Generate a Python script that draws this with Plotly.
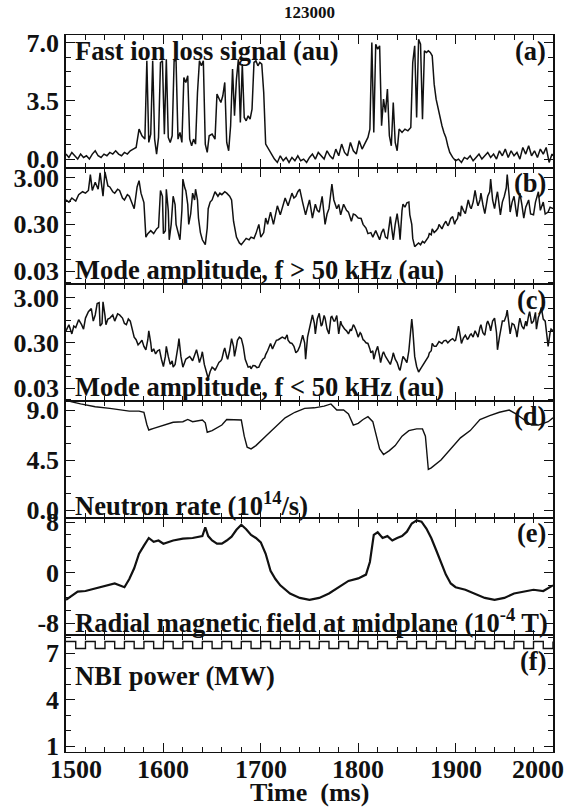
import plotly.graph_objects as go
import math

# ---------------- data ----------------
shot_label = "123000"
x_tick_vals = [1500, 1600, 1700, 1800, 1900, 2000]
x_tick_text = ["1500", "1600", "1700", "1800", "1900", "2000"]

# (a) Fast ion loss signal (au)
loss_t = [1500, 1503, 1506, 1509, 1512, 1515, 1518, 1521, 1524, 1527, 1530, 1533, 1536, 1539, 1542, 1545, 1548, 1551, 1554, 1557,
          1560, 1563, 1566, 1569, 1572, 1575, 1578, 1581, 1583, 1585, 1587, 1589, 1591, 1593, 1595, 1597, 1599, 1601, 1603, 1605,
          1607, 1609, 1611, 1613, 1615, 1617, 1619, 1621, 1623, 1625, 1627, 1629, 1631, 1633, 1635, 1637, 1639, 1641, 1643, 1645,
          1647, 1650, 1653, 1655, 1657, 1659, 1661, 1663, 1665, 1667, 1669, 1671, 1673, 1675, 1677, 1679, 1681, 1683, 1685, 1687,
          1689, 1691, 1693, 1695, 1697, 1699, 1701, 1703, 1705, 1708, 1711, 1714, 1717, 1720, 1723, 1726, 1729, 1732, 1735, 1738,
          1741, 1744, 1747, 1750, 1753, 1756, 1759, 1762, 1765, 1768, 1771, 1774, 1777, 1780, 1783, 1786, 1789, 1792, 1795, 1798,
          1801, 1804, 1807, 1810, 1812, 1814, 1816, 1818, 1820, 1822, 1824, 1826, 1828, 1830, 1832, 1834, 1836, 1838, 1840, 1842,
          1845, 1848, 1851, 1854, 1856, 1858, 1860, 1862, 1864, 1866, 1868, 1870, 1872, 1874, 1876, 1878, 1880, 1882, 1884, 1886,
          1888, 1890, 1892, 1894, 1897, 1900, 1903, 1906, 1909, 1912, 1915, 1918, 1921, 1924, 1927, 1930, 1933, 1936, 1939, 1942,
          1945, 1948, 1951, 1954, 1957, 1960, 1963, 1966, 1969, 1972, 1975, 1978, 1981, 1984, 1987, 1990, 1993, 1996, 1999, 2000]
loss_v = [0.3, 0.1, 0.4, 0.2, 0.0, 0.3, 0.1, 0.2, 0.0, 0.3, 0.5, 0.2, 0.1, 0.3, 0.2, 0.4, 0.3, 0.5, 0.3, 0.2,
          0.4, 0.3, 0.5, 0.6, 0.7, 1.8, 1.4, 1.2, 5.9, 1.0, 1.5, 5.9, 1.2, 0.3, 1.3, 5.8, 5.9, 1.5, 6.0, 1.3,
          1.0, 1.4, 5.9, 5.9, 1.2, 1.6, 1.0, 4.9, 4.6, 5.0, 1.2, 0.8, 1.2, 0.9, 4.0, 5.9, 5.6, 5.9, 0.9, 0.4,
          1.4, 1.5, 1.2, 3.9, 3.6, 3.4, 3.8, 4.6, 1.0, 0.5, 2.0, 5.4, 2.6, 4.8, 6.0, 2.2, 5.7, 2.5, 2.3, 2.6,
          2.4, 3.0, 5.8, 5.9, 5.6, 5.8, 5.7, 4.0, 0.9, 0.6, 0.3, 0.0, -0.2, 0.2, -0.1, 0.1, -0.2, 0.1, -0.1, 0.2,
          -0.1, 0.0, -0.2, 0.1, 0.3, 0.0, 0.4, 0.2, 0.0, 0.5, 0.2, 0.0, 0.6, 0.2, 0.9, 0.4, 0.2, 1.0, 0.5, 0.3,
          1.1, 0.6, 1.0, 1.3, 1.8, 7.0, 1.6, 6.9, 6.6, 6.8, 2.0, 3.6, 2.8, 4.2, 1.4, 0.8, 3.4, 1.0, 0.5, 1.8,
          1.6, 1.8, 1.7, 1.9, 5.8, 6.8, 2.5, 7.2, 6.9, 2.4, 6.5, 6.4, 6.5, 6.4, 6.2, 4.5, 3.6, 3.0, 2.6, 2.0,
          1.6, 1.3, 0.8, 0.4, 0.1, -0.1, 0.0, -0.2, 0.1, 0.0, 0.2, -0.1, 0.1, 0.3, 0.0, 0.2, 0.4, 0.1, 0.3, 0.0,
          0.5, 0.2, 0.6, 0.1, 0.5, 0.2, 0.4, 0.0, 0.7, 0.3, 0.8, 0.2, 0.5, 0.1, 0.6, 0.3, 0.7, -0.2, 0.3, 0.2]

# (b) Mode amplitude, f > 50 kHz (au)
hi_t = [1500, 1503, 1506, 1510, 1513, 1517, 1520, 1523, 1525, 1527, 1530, 1533, 1535, 1538, 1540, 1543, 1545, 1548, 1550, 1553,
        1555, 1558, 1560, 1563, 1565, 1568, 1570, 1573, 1575, 1577, 1580, 1582, 1584, 1587, 1590, 1593, 1595, 1597, 1599, 1600,
        1602, 1603, 1605, 1606, 1608, 1610, 1612, 1613, 1615, 1617, 1619, 1620, 1622, 1623, 1625, 1626, 1628, 1630, 1632, 1633,
        1635, 1636, 1638, 1640, 1643, 1645, 1646, 1648, 1650, 1653, 1656, 1658, 1660, 1663, 1665, 1668, 1670, 1672, 1675, 1678,
        1680, 1683, 1685, 1688, 1690, 1693, 1695, 1698, 1700, 1703, 1705, 1707, 1710, 1713, 1715, 1717, 1720, 1723, 1725, 1728,
        1730, 1732, 1734, 1736, 1738, 1740, 1743, 1746, 1748, 1750, 1753, 1756, 1758, 1760, 1763, 1766, 1768, 1770, 1773, 1775,
        1778, 1780, 1782, 1785, 1788, 1790, 1793, 1795, 1797, 1800, 1803, 1805, 1808, 1810, 1813, 1815, 1818, 1820, 1822, 1824,
        1826, 1828, 1830, 1832, 1833, 1835, 1836, 1838, 1840, 1842, 1843, 1845, 1846, 1848, 1850, 1852, 1853, 1855, 1856, 1858,
        1860, 1862, 1864, 1866, 1868, 1870, 1872, 1873, 1875, 1876, 1878, 1880, 1882, 1883, 1885, 1886, 1888, 1890, 1892, 1893,
        1895, 1897, 1899, 1900, 1902, 1903, 1905, 1906, 1908, 1910, 1912, 1913, 1915, 1916, 1918, 1920, 1922, 1923, 1925, 1926,
        1928, 1930, 1932, 1933, 1935, 1936, 1938, 1940, 1942, 1943, 1945, 1946, 1948, 1950, 1952, 1953, 1955, 1956, 1958, 1960,
        1962, 1963, 1965, 1966, 1968, 1970, 1972, 1975, 1977, 1980, 1982, 1985, 1987, 1990, 1992, 1995, 1997, 2000]
hi_v = [1.0, 0.9, 1.1, 0.95, 1.3, 1.5, 1.4, 1.6, 3.5, 1.6, 2.4, 1.7, 3.8, 1.2, 4.0, 2.0, 1.9, 1.5, 1.4, 1.7,
        1.6, 1.1, 1.0, 1.3, 1.2, 0.8, 0.65, 1.9, 2.6, 1.4, 0.88, 0.16, 0.19, 0.22, 0.19, 0.24, 0.26, 1.6, 1.2, 0.19,
        0.22, 1.7, 0.6, 0.14, 0.3, 1.2, 0.8, 0.3, 0.2, 0.14, 0.6, 2.8, 1.8, 1.6, 0.8, 0.3, 0.5, 1.4, 1.0, 1.7,
        1.0, 0.41, 0.2, 0.14, 0.11, 0.25, 0.65, 0.9, 1.0, 1.5, 1.2, 1.4, 1.3, 1.5, 1.4, 1.2, 1.0, 0.35, 0.16, 0.12,
        0.11, 0.13, 0.15, 0.14, 0.16, 0.15, 0.19, 0.3, 0.16, 0.2, 0.41, 0.3, 0.55, 0.3, 0.45, 0.75, 0.48, 0.8, 1.1, 0.75,
        1.0, 1.4, 1.1, 1.2, 1.5, 1.7, 0.88, 0.48, 0.7, 1.0, 0.41, 0.81, 0.6, 0.55, 1.2, 0.3, 0.5, 0.65, 2.2, 1.0,
        0.65, 0.8, 0.48, 0.81, 0.6, 0.55, 0.35, 0.5, 0.48, 0.41, 0.4, 0.3, 0.25, 0.19, 0.2, 0.16, 0.22, 0.18, 0.14, 0.2,
        0.24, 0.16, 0.15, 0.3, 0.44, 0.2, 0.14, 0.3, 0.51, 0.25, 0.14, 0.6, 0.81, 0.7, 0.87, 0.9, 0.48, 0.3, 0.15, 0.10,
        0.11, 0.12, 0.11, 0.13, 0.12, 0.14, 0.16, 0.19, 0.18, 0.24, 0.2, 0.22, 0.25, 0.3, 0.26, 0.24, 0.3, 0.35, 0.28, 0.3,
        0.4, 0.44, 0.3, 0.35, 0.4, 0.55, 0.45, 0.75, 0.6, 0.51, 0.8, 1.0, 0.7, 0.65, 0.9, 1.6, 0.9, 0.75, 1.0, 1.4,
        0.8, 0.51, 0.9, 1.2, 1.5, 2.8, 1.0, 0.65, 1.2, 1.5, 0.7, 0.48, 0.9, 1.2, 1.8, 3.5, 1.2, 0.55, 0.9, 1.2,
        0.6, 0.44, 1.0, 1.4, 0.8, 0.41, 0.7, 1.0, 0.5, 0.48, 0.9, 1.5, 0.6, 0.9, 0.5, 0.55, 0.7, 0.65]

# (c) Mode amplitude, f < 50 kHz (au)
lo_t = [1500, 1503, 1506, 1508, 1510, 1513, 1516, 1518, 1520, 1523, 1526, 1528, 1530, 1532, 1534, 1535, 1537, 1538, 1540, 1541,
        1543, 1545, 1548, 1550, 1553, 1555, 1558, 1560, 1562, 1564, 1566, 1568, 1570, 1572, 1574, 1576, 1578, 1580, 1582, 1584,
        1585, 1587, 1588, 1590, 1592, 1594, 1596, 1598, 1600, 1602, 1603, 1605, 1607, 1609, 1610, 1612, 1613, 1615, 1616, 1618,
        1620, 1622, 1623, 1625, 1627, 1629, 1630, 1632, 1634, 1636, 1637, 1639, 1640, 1642, 1644, 1646, 1648, 1650, 1652, 1653,
        1655, 1657, 1659, 1660, 1662, 1663, 1665, 1666, 1668, 1670, 1672, 1673, 1675, 1676, 1678, 1680, 1682, 1684, 1686, 1687,
        1689, 1690, 1692, 1694, 1696, 1698, 1700, 1702, 1704, 1705, 1707, 1710, 1712, 1713, 1715, 1716, 1718, 1720, 1722, 1725,
        1727, 1728, 1730, 1732, 1734, 1736, 1738, 1740, 1742, 1743, 1745, 1746, 1748, 1750, 1752, 1753, 1755, 1756, 1758, 1760,
        1762, 1763, 1765, 1766, 1768, 1770, 1772, 1773, 1775, 1776, 1778, 1780, 1782, 1783, 1785, 1786, 1788, 1790, 1792, 1793,
        1795, 1796, 1798, 1800, 1802, 1803, 1805, 1806, 1808, 1810, 1812, 1813, 1815, 1816, 1818, 1820, 1822, 1823, 1825, 1826,
        1828, 1830, 1832, 1833, 1835, 1836, 1838, 1840, 1842, 1843, 1845, 1846, 1848, 1850, 1852, 1853, 1855, 1856, 1858, 1860,
        1862, 1864, 1865, 1867, 1870, 1872, 1873, 1875, 1876, 1878, 1880, 1882, 1883, 1885, 1886, 1888, 1890, 1892, 1893, 1895,
        1897, 1899, 1900, 1902, 1903, 1905, 1906, 1908, 1910, 1912, 1913, 1915, 1916, 1918, 1920, 1922, 1923, 1925, 1926, 1928,
        1930, 1932, 1933, 1935, 1936, 1938, 1940, 1942, 1943, 1945, 1946, 1948, 1950, 1952, 1953, 1955, 1956, 1958, 1960, 1962,
        1963, 1965, 1966, 1968, 1970, 1972, 1973, 1975, 1976, 1978, 1980, 1982, 1983, 1985, 1986, 1988, 1989, 1990, 1992, 1994,
        1995, 1997, 1998, 2000]
lo_v = [0.55, 0.75, 0.47, 0.7, 0.65, 0.97, 0.75, 0.6, 1.05, 1.45, 1.7, 0.9, 1.23, 2.2, 2.3, 0.7, 0.8, 2.4, 1.2, 0.75,
        1.0, 1.05, 1.23, 0.9, 1.3, 1.23, 1.05, 0.8, 0.75, 1.0, 0.9, 0.55, 0.4, 0.35, 0.27, 0.3, 0.34, 0.25, 0.21, 0.35,
        0.55, 0.3, 0.19, 0.22, 0.17, 0.2, 0.21, 0.13, 0.09, 0.15, 0.25, 0.15, 0.10, 0.12, 0.087, 0.1, 0.13, 0.25, 0.37, 0.15,
        0.087, 0.12, 0.13, 0.14, 0.15, 0.13, 0.12, 0.16, 0.21, 0.14, 0.11, 0.15, 0.19, 0.1, 0.068, 0.049, 0.07, 0.087, 0.08, 0.074,
        0.09, 0.11, 0.12, 0.13, 0.2, 0.23, 0.15, 0.13, 0.2, 0.37, 0.25, 0.15, 0.25, 0.34, 0.4, 0.37, 0.25, 0.13, 0.1, 0.087,
        0.09, 0.08, 0.095, 0.094, 0.085, 0.087, 0.11, 0.13, 0.14, 0.165, 0.2, 0.29, 0.22, 0.25, 0.3, 0.34, 0.35, 0.37, 0.4, 0.37,
        0.45, 0.34, 0.3, 0.29, 0.25, 0.18, 0.2, 0.25, 0.38, 0.44, 0.3, 0.13, 0.4, 0.65, 0.9, 1.23, 0.8, 0.47, 1.0, 1.34,
        0.7, 0.75, 1.2, 1.05, 0.6, 0.47, 1.1, 1.14, 0.9, 0.9, 1.2, 0.47, 0.9, 0.75, 0.65, 0.6, 0.55, 0.47, 0.6, 0.55,
        0.75, 0.7, 0.55, 0.4, 0.5, 0.47, 0.35, 0.34, 0.3, 0.29, 0.22, 0.18, 0.2, 0.13, 0.19, 0.25, 0.15, 0.11, 0.17, 0.19,
        0.15, 0.13, 0.11, 0.10, 0.14, 0.18, 0.13, 0.11, 0.08, 0.074, 0.12, 0.15, 0.13, 0.11, 0.2, 0.37, 1.0, 0.6, 0.15, 0.09,
        0.068, 0.08, 0.087, 0.1, 0.13, 0.15, 0.18, 0.2, 0.29, 0.25, 0.25, 0.3, 0.32, 0.3, 0.29, 0.33, 0.34, 0.3, 0.32, 0.35,
        0.37, 0.33, 0.34, 0.5, 0.7, 0.4, 0.29, 0.38, 0.44, 0.36, 0.37, 0.45, 0.47, 0.4, 0.55, 0.45, 0.4, 0.65, 0.75, 0.5,
        0.44, 0.8, 0.9, 0.7, 0.55, 0.9, 1.05, 0.5, 0.21, 0.4, 0.55, 0.9, 0.9, 1.2, 1.57, 0.8, 0.47, 0.8, 0.75, 0.55,
        0.4, 0.8, 1.05, 0.7, 0.6, 0.9, 0.7, 1.2, 1.45, 0.8, 0.9, 1.4, 0.6, 1.1, 1.23, 1.8, 1.45, 1.0, 0.9, 0.3,
        0.25, 0.5, 0.6, 0.55]

# (d) Neutron rate (10^14/s)
neut_t = [1500, 1505, 1515, 1530, 1545, 1555, 1565, 1575, 1580, 1583, 1585, 1590, 1600, 1610, 1620, 1625, 1630, 1640, 1643, 1645,
          1650, 1660, 1665, 1675, 1680, 1683, 1686, 1690, 1695, 1705, 1715, 1725, 1735, 1745, 1755, 1765, 1772, 1778, 1785, 1790,
          1795, 1800, 1805, 1810, 1815, 1818, 1822, 1826, 1832, 1838, 1845, 1852, 1860, 1866, 1869, 1872, 1875, 1885, 1895, 1905,
          1915, 1925, 1935, 1945, 1955, 1962, 1970, 1978, 1985, 1995, 2000]
neut_v = [10.0, 9.75, 9.55, 9.3, 9.15, 9.0, 8.9, 8.9, 8.8, 7.7, 7.2, 7.35, 7.65, 7.9, 7.95, 8.15, 7.95, 8.1, 7.85, 7.0,
          7.15, 7.65, 8.15, 8.15, 8.1, 6.65, 5.65, 5.5, 5.8, 6.65, 7.5, 8.3, 8.8, 9.15, 9.2, 9.35, 9.55, 9.0, 9.0, 8.65,
          7.65, 7.8, 8.15, 8.4, 7.95, 6.85, 5.5, 5.0, 5.35, 5.8, 6.65, 7.15, 7.3, 7.3, 6.65, 3.65, 3.8, 4.5, 5.5, 6.5,
          7.15, 8.15, 8.5, 8.8, 9.0, 8.65, 8.15, 7.65, 7.65, 7.95, 8.3]

# (e) Radial magnetic field at midplane (10^-4 T)
br_t = [1500, 1505, 1512, 1520, 1530, 1540, 1550, 1560, 1565, 1570, 1575, 1580, 1585, 1590, 1595, 1600, 1610, 1620, 1630, 1640,
        1643, 1646, 1650, 1655, 1660, 1665, 1670, 1675, 1680, 1685, 1690, 1695, 1700, 1705, 1710, 1715, 1720, 1730, 1740, 1750,
        1760, 1770, 1780, 1790, 1800, 1808, 1812, 1816, 1820, 1825, 1830, 1835, 1840, 1845, 1850, 1855, 1860, 1865, 1870, 1875,
        1880, 1885, 1890, 1895, 1900, 1910, 1920, 1930, 1940, 1950, 1960, 1970, 1980, 1990, 2000]
br_v = [-4.3, -3.7, -3.0, -2.9, -2.5, -2.0, -1.7, -2.3, -1.0, 0.7, 3.0, 4.3, 5.5, 4.9, 5.1, 4.6, 5.1, 5.4, 5.5, 5.8,
        7.2, 5.8, 5.1, 4.6, 4.6, 5.1, 5.7, 6.8, 7.6, 6.9, 6.0, 5.5, 4.8, 3.0, 0.3, -1.0, -2.0, -3.3, -4.0, -4.3,
        -4.0, -3.3, -2.3, -1.3, -0.9, -0.3, 1.7, 6.0, 6.4, 5.5, 5.8, 5.1, 5.5, 5.8, 6.5, 7.8, 8.3, 8.1, 7.0, 5.5,
        3.6, 1.7, -0.3, -1.7, -2.3, -2.7, -3.3, -4.0, -4.3, -4.0, -3.3, -3.0, -2.7, -2.9, -2.0]

# (f) NBI power (MW), sampled every 10 ms
nbi_t = [1500, 1510, 1520, 1530, 1540, 1550, 1560, 1570, 1580, 1590, 1600, 1610, 1620, 1630, 1640, 1650, 1660, 1670, 1680, 1690,
         1700, 1710, 1720, 1730, 1740, 1750, 1760, 1770, 1780, 1790, 1800, 1810, 1820, 1830, 1840, 1850, 1860, 1870, 1880, 1890,
         1900, 1910, 1920, 1930, 1940, 1950, 1960, 1970, 1980, 1990, 2000]
nbi_v = [7.75, 7.3, 7.75, 7.3, 7.75, 7.3, 7.75, 7.3, 7.75, 7.3, 7.75, 7.3, 7.75, 7.3, 7.75, 7.3, 7.75, 7.3, 7.75, 7.3,
         7.75, 7.3, 7.75, 7.3, 7.75, 7.3, 7.75, 7.3, 7.75, 7.3, 7.75, 7.3, 7.75, 7.3, 7.75, 7.3, 7.75, 7.3, 7.75, 7.3,
         7.75, 7.3, 7.75, 7.3, 7.75, 7.3, 7.75, 7.3, 7.75, 7.3, 7.75]

panel_titles = ["Fast ion loss signal (au)",
                "Mode amplitude, f &gt; 50 kHz (au)",
                "Mode amplitude, f &lt; 50 kHz (au)",
                "Neutron rate (10<sup>14</sup>/s)",
                "Radial magnetic field at midplane (10<sup>-4</sup> T)",
                "NBI power (MW)"]
panel_letters = ["(a)", "(b)", "(c)", "(d)", "(e)", "(f)"]

y_tickvals = [[0, 3.5, 7.0], [0.03, 0.3, 3.0], [0.03, 0.3, 3.0], [0, 4.5, 9.0], [-8, 0, 8], [1, 4, 7]]
y_ticktext = [["0.0", "3.5", "7.0"], ["0.03", "0.30", "3.00"], ["0.03", "0.30", "3.00"],
              ["0.0", "4.5", "9.0"], ["-8", "0", "8"], ["1", "4", "7"]]

# ---------------- layout / style ----------------
W, H = 567, 807
L, R, T, B = 66, 14, 35, 55
FONT = "Liberation Serif"
INK = "#111111"

# panel edges in pixels from the top of the plot area
edges = [0, 132.7, 249.3, 366.0, 482.6, 599.3, 716.7]
ph = edges[-1]
domains = []
for i in range(6):
    domains.append([1 - edges[i + 1] / ph, 1 - edges[i] / ph])

y_ranges = [[-0.52, 7.45],
            [math.log10(0.0155), math.log10(4.9)],
            [math.log10(0.0155), math.log10(5.8)],
            [-0.7, 9.8],
            [-9.8, 8.7],
            [0.63, 8.2]]
y_types = ["linear", "log", "log", "linear", "linear", "linear"]
minor_specs = [dict(dtick=0.875), None, None, dict(dtick=1.5), dict(dtick=2), dict(dtick=1)]
log_minor = [0.0169, 0.053, 0.095, 0.169, 0.53, 0.95, 1.69]

series = [(loss_t, loss_v, 1.5), (hi_t, hi_v, 1.5), (lo_t, lo_v, 1.5),
          (neut_t, neut_v, 1.4), (br_t, br_v, 2.2), (nbi_t, nbi_v, 1.4)]

fig = go.Figure()
for i, (t, v, lw) in enumerate(series):
    suffix = "" if i == 0 else str(i + 1)
    fig.add_trace(go.Scatter(
        x=t, y=v, xaxis="x" + suffix, yaxis="y" + suffix, mode="lines",
        line=dict(color=INK, width=lw, shape="hv" if i == 5 else "linear"),
        showlegend=False, hoverinfo="skip"))

tickfont = dict(family=FONT, size=26, color=INK, weight="bold")
layout = dict(
    template="none",
    width=W, height=H, margin=dict(l=L, r=R, t=T, b=B, autoexpand=False),
    paper_bgcolor="white", plot_bgcolor="white", showlegend=False,
)
for i in range(6):
    suffix = "" if i == 0 else str(i + 1)
    layout["xaxis" + suffix] = dict(
        domain=[0, 1], anchor="y" + suffix, range=[1500, 2000], automargin=False,
        showline=True, linecolor=INK, linewidth=1.0, mirror="allticks",
        ticks="inside", ticklen=9, tickwidth=1.3, tickcolor=INK,
        tick0=1500, dtick=100, showticklabels=False,
        minor=dict(ticks="inside", ticklen=5, tickwidth=1.3, tickcolor=INK, dtick=20, showgrid=False),
        showgrid=False, zeroline=False)
    if y_types[i] == "log":
        minor = dict(ticks="inside", ticklen=5, tickwidth=1.3, tickcolor=INK, tickvals=log_minor, showgrid=False)
    else:
        minor = dict(ticks="inside", ticklen=5, tickwidth=1.3, tickcolor=INK, dtick=minor_specs[i]["dtick"],
                     tick0=y_tickvals[i][0], showgrid=False)
    layout["yaxis" + suffix] = dict(
        domain=domains[i], anchor="x" + suffix, type=y_types[i], range=y_ranges[i], automargin=False,
        showline=True, linecolor=INK, linewidth=1.5, mirror="allticks",
        ticks="inside", ticklen=9, tickwidth=1.3, tickcolor=INK,
        tickmode="array", tickvals=y_tickvals[i], ticktext=y_ticktext[i],
        tickfont=tickfont, minor=minor, showgrid=False, zeroline=False)
fig.update_layout(**layout)

annotations = []
title_y = [51, 270, 387, 504, 621, 676]
letter_y = [51, 183, 300, 416, 533, 661]
pw = W - L - R
for i in range(6):
    annotations.append(dict(
        xref="paper", yref="paper", x=(73 - L) / pw, y=1 - (title_y[i] - T) / ph,
        xanchor="left", yanchor="middle", showarrow=False, text=panel_titles[i],
        font=dict(family=FONT, size=26.5, color=INK, weight="bold")))
    annotations.append(dict(
        xref="paper", yref="paper", x=(548 - L) / pw, y=1 - (letter_y[i] - T) / ph,
        xanchor="right", yanchor="middle", showarrow=False, text=panel_letters[i],
        font=dict(family=FONT, size=26.5, color=INK, weight="bold")))

# x tick labels on the bottom panel (end labels nudged inward as in the original)
shifts = {1500: 10, 2000: -15}
for v, txt in zip(x_tick_vals, x_tick_text):
    annotations.append(dict(
        xref="x6", yref="paper", x=v, y=1 - (769 - T) / ph, xshift=shifts.get(v, 0),
        xanchor="center", yanchor="middle", showarrow=False, text=txt,
        font=dict(family=FONT, size=26, color=INK, weight="bold")))
annotations.append(dict(
    xref="paper", yref="paper", x=0.5, y=1 - (792 - T) / ph, xanchor="center", yanchor="middle",
    showarrow=False, text="Time  (ms)", font=dict(family=FONT, size=26, color=INK, weight="bold")))
annotations.append(dict(
    xref="paper", yref="paper", x=0.5, y=1 - (13 - T) / ph, xanchor="center", yanchor="middle",
    showarrow=False, text=shot_label, font=dict(family=FONT, size=17, color=INK, weight="bold")))
fig.update_layout(annotations=annotations)

fig.write_html("out.html", config={"displayModeBar": False},
               post_script="document.body.style.margin='0';")
